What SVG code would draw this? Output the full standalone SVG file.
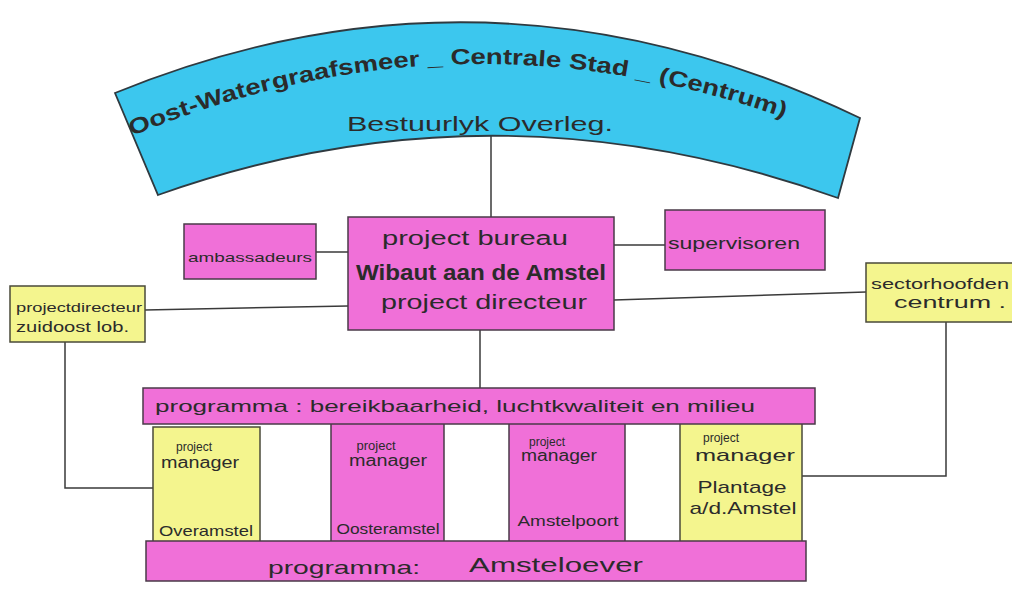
<svg xmlns="http://www.w3.org/2000/svg" width="1012" height="592" viewBox="0 0 1012 592">
<style>
text{font-family:"Liberation Sans","DejaVu Sans",sans-serif;fill:#2b2b2b}
.pink{fill:#f070d8;stroke:#4a3a48;stroke-width:1.5}
.yel{fill:#f4f58e;stroke:#4a4a3a;stroke-width:1.5}
.blue{fill:#3cc7ee;stroke:#2f3a40;stroke-width:1.8}
.ln{stroke:#3a3a3a;stroke-width:1.5;fill:none}
.m{text-anchor:middle}
.arc{font-size:22px;font-weight:bold}
</style>
<defs>
<path id="arcText" d="M 132,136 Q 470,-4 812,128"/>
</defs>
<rect width="1012" height="592" fill="#ffffff"/>
<g id="connectors">
<line class="ln" x1="491" y1="135" x2="491" y2="217"/>
<line class="ln" x1="316" y1="252" x2="348" y2="252"/>
<line class="ln" x1="614" y1="245" x2="665" y2="245"/>
<polyline class="ln" points="145,310 348,306"/>
<polyline class="ln" points="614,300 866,292"/>
<line class="ln" x1="480" y1="330" x2="480" y2="389"/>
<polyline class="ln" points="65,342 65,488 153,488"/>
<polyline class="ln" points="946,322 946,476 802,476"/>
</g>
<g id="bestuurlijk-overleg">
<path class="blue" d="M 115,93 Q 490,-60 860,118 L 838,198 Q 495,75 158,195 Z"/>
<text class="arc"><textPath href="#arcText" startOffset="0" textLength="148" lengthAdjust="spacingAndGlyphs">Oost-Water</textPath></text>
<text class="arc"><textPath href="#arcText" startOffset="149" textLength="380" lengthAdjust="spacingAndGlyphs">graafsmeer _ Centrale Stad _</textPath></text>
<text class="arc"><textPath href="#arcText" startOffset="537" textLength="131" lengthAdjust="spacingAndGlyphs">(Centrum)</textPath></text>
<text class="m" x="480" y="131" font-size="21" textLength="266" lengthAdjust="spacingAndGlyphs">Bestuurlyk Overleg.</text>
</g>
<g id="project-bureau">
<rect class="pink" x="348" y="217" width="266" height="113"/>
<text class="m" x="475" y="245" font-size="20" textLength="186" lengthAdjust="spacingAndGlyphs">project bureau</text>
<text class="m" x="481" y="280" font-size="22" font-weight="bold" textLength="250" lengthAdjust="spacingAndGlyphs">Wibaut aan de Amstel</text>
<text class="m" x="484" y="309" font-size="20" textLength="206" lengthAdjust="spacingAndGlyphs">project directeur</text>
</g>
<g id="ambassadeurs">
<rect class="pink" x="184" y="224" width="132" height="55"/>
<text class="m" x="250" y="262" font-size="13" textLength="124" lengthAdjust="spacingAndGlyphs">ambassadeurs</text>
</g>
<g id="supervisoren">
<rect class="pink" x="665" y="210" width="160" height="60"/>
<text class="m" x="734" y="249" font-size="17" textLength="132" lengthAdjust="spacingAndGlyphs">supervisoren</text>
</g>
<g id="projectdirecteur-zuidoost">
<rect class="yel" x="10" y="286" width="135" height="56"/>
<text x="16" y="312" font-size="13" textLength="126" lengthAdjust="spacingAndGlyphs">projectdirecteur</text>
<text x="16" y="332" font-size="14" textLength="113" lengthAdjust="spacingAndGlyphs">zuidoost lob.</text>
</g>
<g id="sectorhoofden">
<rect class="yel" x="866" y="263" width="150" height="59"/>
<text x="871" y="289" font-size="14" textLength="138" lengthAdjust="spacingAndGlyphs">sectorhoofden</text>
<text x="894" y="308" font-size="16" textLength="112" lengthAdjust="spacingAndGlyphs">centrum .</text>
</g>
<g id="pm-overamstel">
<rect class="yel" x="153" y="427" width="107" height="129"/>
<text class="m" x="194" y="451" font-size="12">project</text>
<text class="m" x="200" y="468" font-size="16" textLength="78" lengthAdjust="spacingAndGlyphs">manager</text>
<text class="m" x="206" y="536" font-size="15" textLength="94" lengthAdjust="spacingAndGlyphs">Overamstel</text>
</g>
<g id="pm-oosteramstel">
<rect class="pink" x="331" y="422" width="113" height="130"/>
<text class="m" x="376" y="450" font-size="13">project</text>
<text class="m" x="388" y="466" font-size="16" textLength="78" lengthAdjust="spacingAndGlyphs">manager</text>
<text class="m" x="388" y="534" font-size="15" textLength="103" lengthAdjust="spacingAndGlyphs">Oosteramstel</text>
</g>
<g id="pm-amstelpoort">
<rect class="pink" x="509" y="423" width="116" height="125"/>
<text class="m" x="547" y="446" font-size="12">project</text>
<text class="m" x="559" y="461" font-size="16" textLength="76" lengthAdjust="spacingAndGlyphs">manager</text>
<text class="m" x="568" y="526" font-size="15" textLength="101" lengthAdjust="spacingAndGlyphs">Amstelpoort</text>
</g>
<g id="pm-plantage">
<rect class="yel" x="680" y="419" width="122" height="129"/>
<text class="m" x="721" y="442" font-size="12">project</text>
<text class="m" x="745" y="461" font-size="17" textLength="100" lengthAdjust="spacingAndGlyphs">manager</text>
<text class="m" x="742" y="493" font-size="17" textLength="89" lengthAdjust="spacingAndGlyphs">Plantage</text>
<text class="m" x="743" y="514" font-size="17" textLength="107" lengthAdjust="spacingAndGlyphs">a/d.Amstel</text>
</g>
<g id="programma-bereikbaarheid">
<rect class="pink" x="143" y="388" width="672" height="36"/>
<text x="155" y="412" font-size="17" textLength="600" lengthAdjust="spacingAndGlyphs">programma : bereikbaarheid, luchtkwaliteit  en  milieu</text>
</g>
<g id="programma-amsteloever">
<rect class="pink" x="146" y="541" width="660" height="40"/>
<text x="268" y="574" font-size="19" textLength="152" lengthAdjust="spacingAndGlyphs">programma:</text>
<text x="469" y="572" font-size="20" textLength="174" lengthAdjust="spacingAndGlyphs">Amsteloever</text>
</g>
</svg>
